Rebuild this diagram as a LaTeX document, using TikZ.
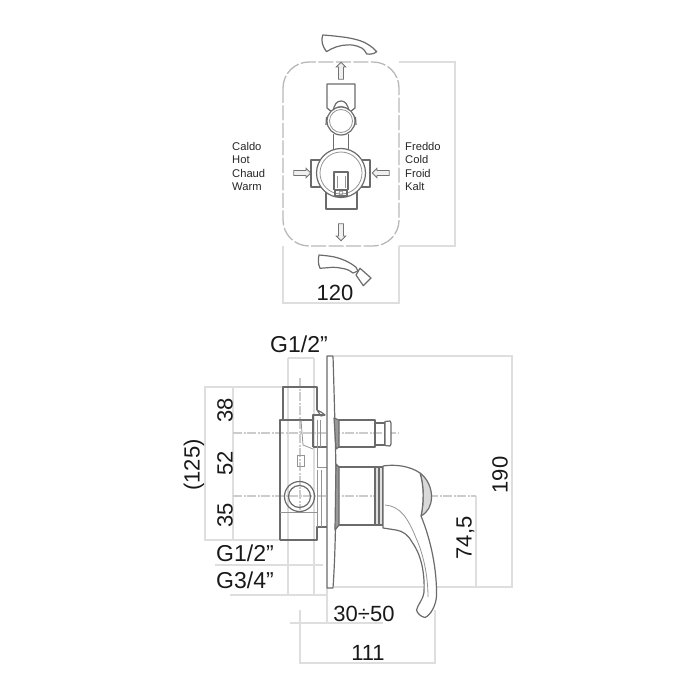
\documentclass[tikz,border=0pt]{standalone}
\usepackage{fontspec}
\setmainfont{Liberation Sans}
\usetikzlibrary{arrows, positioning, shapes.arrows}

\begin{document}
\begin{tikzpicture}[x=1pt, y=-1pt]
	\tikzset {part/.style={draw=black!58, line width=1.2pt, line join=round},
		thin part/.style={draw=black!42, line width=.8pt},
		dim/.style={draw=black!13, line width=1.3pt},
		center line/.style={draw=black!20, line width=1.2pt, dash pattern=on 9pt off 1.5pt on 2pt off 1.5pt},
		plate/.style={draw=black!28, line width=1.3pt, dash pattern=on 15pt off 2.5pt, rounded corners=26pt},
		flow/.style={single arrow, draw=black!55, fill=black!6, line width=.8pt, minimum width=9.5pt, minimum height=17pt, single arrow head extend=2pt, single arrow tip angle=90, inner sep=2pt},
		small label/.style={font=\fontsize{11.2}{13}\selectfont, anchor=base west, inner sep=0pt, text=black!85},
		size label/.style={font=\fontsize{22}{25}\selectfont, inner sep=0pt, text=black!90},
		thread label/.style={size label, font=\fontsize{23}{25}\selectfont} }
	\useasboundingbox (0,0) rectangle (700,700);

	\draw[dim] (399,62) -- (455,62) -- (455,246) -- (399,246);
	\draw[dim] (283,246) -- (283,303) -- (399,303) -- (399,246);
	\draw[plate] (283,62) rectangle (399,246);

	\draw[part, fill=white] (322.7,35) .. controls (330,35.5) and (335,36) .. (340,36.7) .. controls (348,37.5) and (355,39) .. (360,40.7) .. controls (365,42) and (373,47) .. (376.7,51.7) .. controls (374,54) and (370,54.5) .. (366.7,54) .. controls (365,51) and (364,49) .. (361.7,48) .. controls (356,45) and (350,44.5) .. (346.7,45) .. controls (340,45) and (332,48) .. (326.5,51.7) .. controls (322,46) and (321,40) .. (322.7,35) -- cycle;
	\draw[part, fill=white] (319,255) .. controls (325,255.5) and (329,256) .. (333,256.7) .. controls (340,258) and (350,262) .. (356,267.3) -- (358,271) -- (353,273) .. controls (349,269) and (340,267.5) .. (333,267.3) -- (320,268.3) .. controls (318,264) and (318,259) .. (319,255) -- cycle;
	\draw[part, fill=white] (360,268.3) -- (371,278) -- (363.3,285.7) -- (356,275) -- cycle;

	\node[flow, rotate=90] (upflow) at (341,72) {};
	\node[flow, rotate=-90] (downflow) at (341,231) {};
	\node[flow] (hotflow) at (301,173) {};
	\node[flow, rotate=180] (coldflow) at (382,173) {};

	\draw[part] (332,112) -- (327,108) -- (327,84) -- (355,84) -- (355,108) -- (350,112);
	\draw[part] (333,112) .. controls (334,104) and (337,101) .. (341,101) .. controls (345,101) and (348,104) .. (349,112);
	\draw[thin part] (335,110) .. controls (337,105) and (345,105) .. (347,110);
	\draw[part] (333.5,134) -- (333.5,151) (348.5,134) -- (348.5,151);
	\draw[part, fill=white] (341,121) circle (14);
	\draw[thin part] (341,121) circle (11.5);
	\draw[part] (326.5,117) -- (326,125) (355.5,117) -- (356,125);

	\draw[part] (326,190) -- (326,209) -- (357,209) -- (357,190);
	\draw[part] (321,160) -- (311,160) -- (311,187) -- (321,187) (361,160) -- (370,160) -- (370,187) -- (361,187);
	\draw[part, fill=white] (341,173) circle (24.5);
	\draw[thin part, fill=white] (341,173) circle (21);
	\draw[part] (334,190) -- (334,172) -- (348,172) -- (348,190);
	\draw[thin part] (337,176) -- (337,188) (345,176) -- (345,188);
	\draw[part] (335,190) -- (347,190) -- (347,196) -- (335,196) -- cycle;
	\draw[thin part] (341,193) circle (2);

	\node[small label] (caldo) at (232,150.5) {Caldo};
	\node[small label] (hot) at (232,164) {Hot};
	\node[small label] (chaud) at (232,177.5) {Chaud};
	\node[small label] (warm) at (232,191) {Warm};
	\node[small label] (freddo) at (405,150.5) {Freddo};
	\node[small label] (cold) at (405,164) {Cold};
	\node[small label] (froid) at (405,177.5) {Froid};
	\node[small label] (kalt) at (405,191) {Kalt};
	\node[size label] (width) at (335,293) {120};

	\draw[dim] (288,358) -- (288,596) (314,358) -- (314,596) (288,358) -- (314,358);
	\draw[dim] (283,387) -- (205,387) -- (205,540) -- (280,540);
	\draw[dim] (233,387) -- (233,540);
	\draw[dim] (215,565) -- (323,565);
	\draw[dim] (230,595) -- (327,595);
	\draw[dim] (290,623) -- (327,623) -- (327,588);
	\draw[dim] (327,623) -- (383,623);
	\draw[dim] (300,610) -- (300,663) -- (435,663) -- (435,610);
	\draw[dim] (334,356) -- (512,356) -- (512,587) -- (334,587);
	\draw[dim] (476,496) -- (476,587);
	\draw[center line] (233,433) -- (398,433);
	\draw[center line] (233,496) -- (476,496);
	\draw[center line] (300,378) -- (300,510);

	\draw[part] (283,420) -- (283,387) -- (317,387) -- (317,410);
	\draw[part] (280,540) -- (280,420) -- (313,420);
	\draw[part] (280,540) -- (317,540) -- (317,527) -- (327,527);
	\draw[thin part] (280,512) -- (317,512);
	\draw[thin part] (317,470) -- (317,527) (321,470) -- (321,527);
	\draw[part] (313,447) -- (313,415) -- (325,415) (313,447) -- (327,447);
	\draw[part] (317,410) -- (321,412) -- (325,415) -- (321,416) -- (317,410);
	\draw[thin part] (317,420) -- (317,447) (320,420) -- (320,447) (317,447) -- (317,467) -- (327,467);
	\draw[thin part] (301,420) -- (303,445) -- (313,449);
	\draw[thin part] (297,455) rectangle (304,466);
	\draw[part] (299.5,496.5) circle (15);
	\draw[part] (299.5,496.5) circle (11);

	\draw[part, fill=white] (327,356) -- (333,356) .. controls (335,420) and (336,470) .. (336,472) .. controls (336,520) and (335,560) .. (333,588) -- (327,588) -- cycle;
	\draw[part, fill=black!40] (334,418) -- (339,420) -- (339,447) -- (336,449) -- cycle;
	\draw[part, fill=black!40] (336,464) -- (339,467) -- (339,525) -- (335,530) -- cycle;

	\draw[part] (339,420) -- (375,420) -- (375,447) -- (339,447);
	\draw[part] (375,423) -- (385,423) -- (385,445) -- (375,445);
	\draw[part, fill=white] (385,421.5) -- (390,421) -- (391,423) -- (391,444) -- (390,446) -- (385,445.5) -- cycle;

	\draw[part] (339,467) -- (375,467) -- (375,525) -- (339,525);
	\draw[part, fill=black!12] (375,467) rectangle (383,525);
	\draw[part] (379,467) -- (379,525);
	\draw[part, fill=black!15] (420,473) .. controls (427,478) and (432,488) .. (431.5,498) .. controls (431,506) and (428,512) .. (421,516) .. controls (424,502) and (424,486) .. (420,473) -- cycle;
	\draw[part, fill=white] (383,466) .. controls (395,464) and (410,466) .. (420,473) .. controls (424,486) and (424,502) .. (421,516) .. controls (431,540) and (437,570) .. (436.5,596) .. controls (436,605) and (431,615) .. (425,617.5) .. controls (421,617) and (417,613) .. (416.5,610) .. controls (418,604) and (423,600) .. (424,592) .. controls (425,570) and (420,553) .. (412,542) .. controls (408,535) and (403,531) .. (396,530) -- (383,528) -- cycle;
	\draw[thin part] (385,505) .. controls (400,506) and (408,518) .. (416,538) .. controls (423,553) and (428,575) .. (428,597);

	\node[thread label] (topthread) at (299,344) {G1/2”};
	\node[size label, rotate=90] (upperpart) at (225,410) {38};
	\node[size label, rotate=90] (midpart) at (225,463) {52};
	\node[size label, rotate=90] (lowerpart) at (225,515) {35};
	\node[size label, rotate=90] (bodyheight) at (194,465) {(125)};
	\node[thread label] (lowthread) at (245,553) {G1/2”};
	\node[thread label] (hotthread) at (245,580) {G3/4”};
	\node[size label] (depth) at (364,614) {30÷50};
	\node[size label] (length) at (368,653) {111};
	\node[size label, rotate=90] (axis) at (465.5,538) {74,5};
	\node[size label, rotate=90] (height) at (500,475) {190};
\end{tikzpicture}
\end{document}
